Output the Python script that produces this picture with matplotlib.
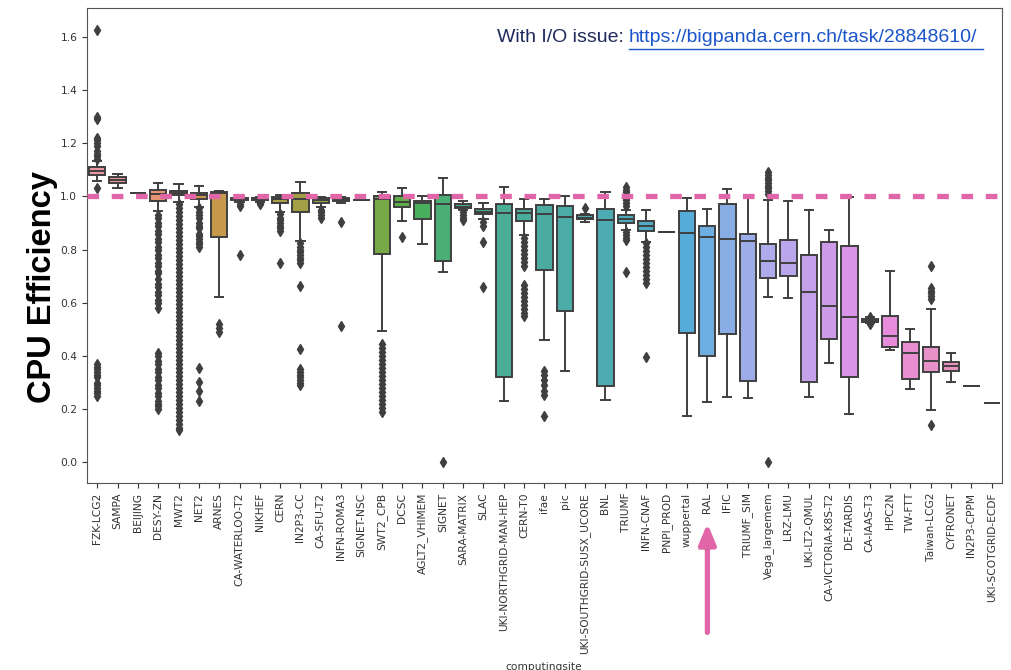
import matplotlib
matplotlib.use("Agg")
import matplotlib.pyplot as plt
import matplotlib.patheffects as pe
import seaborn as sns

sites = ["FZK-LCG2", "SAMPA", "BEIJING", "DESY-ZN", "MWT2", "NET2", "ARNES",
         "CA-WATERLOO-T2", "NIKHEF", "CERN", "IN2P3-CC", "CA-SFU-T2", "INFN-ROMA3",
         "SIGNET-NSC", "SWT2_CPB", "DCSC", "AGLT2_VHIMEM", "SIGNET", "SARA-MATRIX",
         "SLAC", "UKI-NORTHGRID-MAN-HEP", "CERN-T0", "ifae", "pic",
         "UKI-SOUTHGRID-SUSX_UCORE", "BNL", "TRIUMF", "INFN-CNAF", "PNPI_PROD",
         "wuppertal", "RAL", "IFIC", "TRIUMF_SIM", "Vega_largemem", "LRZ-LMU",
         "UKI-LT2-QMUL", "CA-VICTORIA-K8S-T2", "DE-TARDIS", "CA-IAAS-T3", "HPC2N",
         "TW-FTT", "Taiwan-LCG2", "CYFRONET", "IN2P3-CPPM", "UKI-SCOTGRID-ECDF"]

q1 = [1.079, 1.051, 1.012, 0.984, 1.004, 0.989, 0.846, 0.985, 0.985, 0.974, 0.942,
      0.976, 0.982, 0.986, 0.783, 0.961, 0.915, 0.756, 0.955, 0.932, 0.320, 0.907,
      0.723, 0.570, 0.913, 0.287, 0.899, 0.870, 0.867, 0.487, 0.401, 0.481, 0.307,
      0.694, 0.702, 0.303, 0.462, 0.322, 0.528, 0.435, 0.315, 0.340, 0.345, 0.287,
      0.222]
med = [1.095, 1.061, 1.012, 1.009, 1.014, 1.004, 1.011, 0.991, 0.990, 0.989, 0.989,
       0.985, 0.989, 0.986, 0.989, 0.980, 0.976, 0.970, 0.961, 0.942, 0.939, 0.939,
       0.932, 0.924, 0.920, 0.911, 0.915, 0.888, 0.867, 0.861, 0.846, 0.841, 0.831,
       0.757, 0.751, 0.640, 0.588, 0.548, 0.534, 0.475, 0.412, 0.381, 0.362, 0.287,
       0.222]
q3 = [1.111, 1.074, 1.012, 1.024, 1.020, 1.011, 1.015, 0.995, 0.994, 0.999, 1.011,
      0.992, 0.995, 0.986, 1.003, 1.003, 0.982, 1.005, 0.970, 0.951, 0.971, 0.952,
      0.967, 0.965, 0.928, 0.952, 0.930, 0.909, 0.867, 0.945, 0.890, 0.970, 0.858,
      0.821, 0.837, 0.779, 0.830, 0.812, 0.540, 0.550, 0.451, 0.435, 0.377, 0.287,
      0.222]
wlo = [1.059, 1.033, 1.012, 0.945, 0.980, 0.961, 0.620, 0.978, 0.979, 0.942, 0.832,
       0.961, 0.976, 0.986, 0.494, 0.907, 0.822, 0.714, 0.949, 0.915, 0.231, 0.855,
       0.460, 0.345, 0.905, 0.234, 0.873, 0.830, 0.867, 0.175, 0.226, 0.246, 0.241,
       0.620, 0.617, 0.246, 0.375, 0.180, 0.524, 0.422, 0.276, 0.197, 0.303, 0.287,
       0.222]
whi = [1.133, 1.084, 1.012, 1.051, 1.046, 1.040, 1.019, 0.998, 0.997, 1.004, 1.055,
       0.999, 0.999, 0.986, 1.015, 1.031, 1.003, 1.070, 0.982, 0.976, 1.036, 0.990,
       0.990, 1.001, 0.935, 1.018, 0.949, 0.949, 0.867, 0.992, 0.952, 1.028, 0.999,
       0.986, 0.982, 0.949, 0.873, 0.999, 0.546, 0.721, 0.500, 0.575, 0.410, 0.287,
       0.222]

outliers = [
    [1.625, 1.30, 1.29, 1.22, 1.21, 1.20, 1.19, 1.17, 1.16, 1.15, 1.14, 1.03,
     0.37, 0.36, 0.35, 0.34, 0.33, 0.32, 0.30, 0.29, 0.28, 0.27, 0.26, 0.25],
    [],
    [],
    [0.93, 0.92, 0.90, 0.89, 0.87, 0.86, 0.84, 0.83, 0.81, 0.80, 0.78, 0.77, 0.75,
     0.74, 0.72, 0.71, 0.69, 0.67, 0.66, 0.64, 0.63, 0.61, 0.60, 0.58,
     0.41, 0.40, 0.38, 0.37, 0.35, 0.34, 0.32, 0.31, 0.29, 0.28, 0.26, 0.25, 0.23,
     0.22, 0.21, 0.20],
    [0.97, 0.955, 0.94, 0.925, 0.91, 0.895, 0.88, 0.865, 0.85, 0.835, 0.82, 0.805,
     0.79, 0.775, 0.76, 0.745, 0.73, 0.715, 0.70, 0.685, 0.67, 0.655, 0.64, 0.625,
     0.61, 0.595, 0.58, 0.565, 0.55, 0.535, 0.52, 0.505, 0.49, 0.475, 0.46, 0.445,
     0.43, 0.415, 0.40, 0.385, 0.37, 0.355, 0.34, 0.325, 0.31, 0.295, 0.28, 0.265,
     0.25, 0.235, 0.22, 0.205, 0.19, 0.175, 0.16, 0.145, 0.13, 0.12],
    [0.955, 0.94, 0.93, 0.92, 0.90, 0.89, 0.88, 0.86, 0.85, 0.84, 0.83, 0.82, 0.81,
     0.353, 0.303, 0.268, 0.231],
    [0.52, 0.505, 0.49],
    [0.97, 0.965, 0.78],
    [0.975, 0.97],
    [0.935, 0.92, 0.91, 0.90, 0.89, 0.88, 0.87, 0.75],
    [0.825, 0.81, 0.80, 0.79, 0.78, 0.77, 0.76, 0.75, 0.663, 0.425,
     0.35, 0.34, 0.33, 0.32, 0.31, 0.30, 0.29],
    [0.95, 0.94, 0.93, 0.92],
    [0.905, 0.514],
    [],
    [0.445, 0.43, 0.415, 0.40, 0.385, 0.37, 0.355, 0.34, 0.325, 0.31, 0.295, 0.28,
     0.265, 0.25, 0.235, 0.22, 0.205, 0.19],
    [0.848],
    [],
    [0.0],
    [0.94, 0.93, 0.92, 0.91],
    [0.905, 0.89, 0.83, 0.66],
    [],
    [0.845, 0.83, 0.815, 0.80, 0.785, 0.77, 0.755, 0.74,
     0.665, 0.65, 0.635, 0.62, 0.605, 0.59, 0.575, 0.56, 0.55],
    [0.345, 0.33, 0.31, 0.29, 0.27, 0.255, 0.174],
    [],
    [0.955],
    [],
    [1.036, 1.025, 1.015, 1.005, 0.995, 0.985, 0.975, 0.965,
     0.865, 0.855, 0.845, 0.835, 0.717],
    [0.823, 0.808, 0.793, 0.778, 0.763, 0.748, 0.733, 0.718, 0.703, 0.688, 0.673,
     0.395],
    [],
    [],
    [],
    [],
    [],
    [1.09, 1.08, 1.07, 1.06, 1.05, 1.04, 1.03, 1.02, 1.01, 0.0],
    [],
    [],
    [],
    [],
    [0.548, 0.52],
    [],
    [],
    [0.737, 0.655, 0.645, 0.635, 0.625, 0.615, 0.140],
    [],
    [],
    [],
]

yticks = [0.0, 0.2, 0.4, 0.6, 0.8, 1.0, 1.2, 1.4, 1.6]

fig = plt.figure(figsize=(10.12, 6.70), dpi=100)
ax = fig.add_axes([0.086, 0.279, 0.904, 0.709])

colors = [sns.desaturate(c, 0.75) for c in sns.husl_palette(len(sites), l=0.7)]
gray = "#3f3f3f"

stats = []
for i in range(len(sites)):
    stats.append({"med": med[i], "q1": q1[i], "q3": q3[i],
                  "whislo": wlo[i], "whishi": whi[i], "fliers": outliers[i]})

bp = ax.bxp(stats, positions=range(len(sites)), widths=0.8, patch_artist=True,
            boxprops=dict(edgecolor=gray, linewidth=1.4),
            medianprops=dict(color=gray, linewidth=1.4),
            whiskerprops=dict(color=gray, linewidth=1.4),
            capprops=dict(color=gray, linewidth=1.4),
            flierprops=dict(marker="d", markersize=5, markerfacecolor=gray,
                            markeredgecolor=gray))
for patch, c in zip(bp["boxes"], colors):
    patch.set_facecolor(c)

ax.axhline(1.0, color="#e066a8", linewidth=3.8, dashes=(2.2, 2.4), zorder=5)

ax.set_xlim(-0.5, len(sites) - 0.5)
ax.set_ylim(-0.078, 1.708)
ax.set_yticks(yticks)
ax.set_yticklabels([f"{v:.1f}" for v in yticks])
ax.set_xticks(range(len(sites)))
ax.set_xticklabels(sites, rotation=90)
ax.tick_params(labelsize=7.7, colors="#333333", length=3.5)
for s in ax.spines.values():
    s.set_color("#555555")

fig.text(0.042, 0.572, "CPU Efficiency", rotation=90, fontsize=23.5, fontweight="bold",
         family="Liberation Sans", ha="center", va="center", color="black")
fig.text(0.537, 0.012, "computingsite", fontsize=7.7, color="#333333",
         ha="center", va="top")

fig.text(0.491, 0.944, "With I/O issue:", fontsize=14, family="Liberation Sans",
         color="#1f2a5c", ha="left", va="center")
fig.text(0.621, 0.944, "https://bigpanda.cern.ch/task/28848610/", fontsize=14,
         family="Liberation Sans", color="#1a55c9", ha="left", va="center")
fig.add_artist(plt.Line2D([0.622, 0.971], [0.927, 0.927], color="#1a55c9",
                          linewidth=1.0))

ax.annotate("", xy=(0.699, 0.223), xytext=(0.699, 0.052),
            xycoords="figure fraction", textcoords="figure fraction",
            arrowprops=dict(arrowstyle="-|>,head_width=0.5,head_length=1.2",
                            color="#e066a8", linewidth=3.8,
                            path_effects=[pe.SimplePatchShadow(offset=(-2, -2),
                                                               alpha=0.25),
                                          pe.Normal()]))

fig.savefig("out.png", dpi=100)
